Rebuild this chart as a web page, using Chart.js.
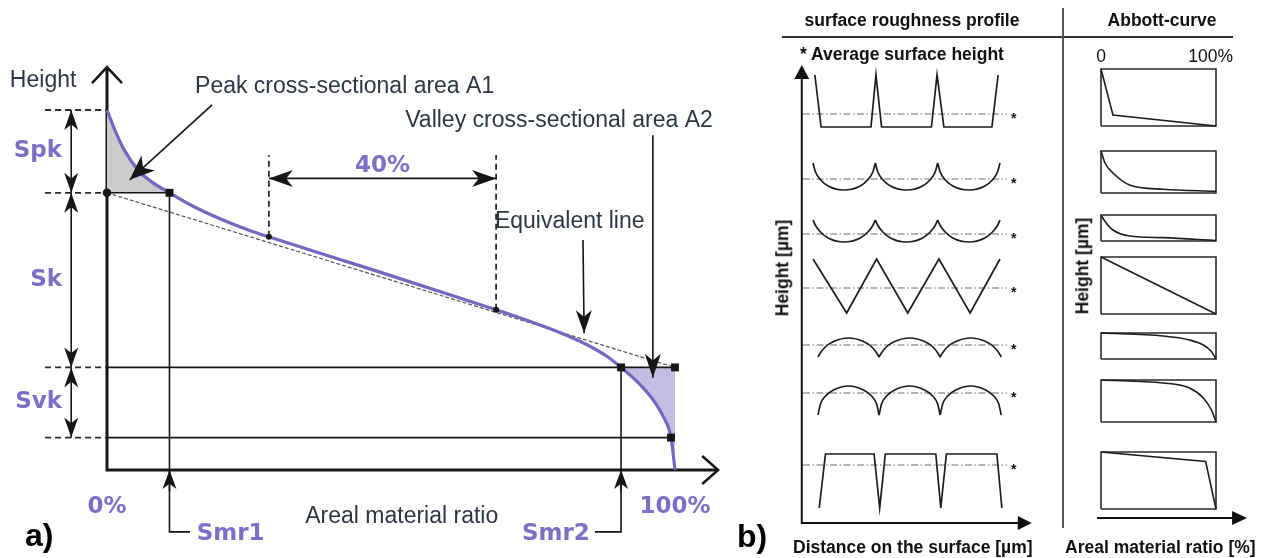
<!DOCTYPE html>
<html>
<head>
<meta charset="utf-8">
<title>Areal material ratio curve</title>
<script src="https://cdn.jsdelivr.net/npm/chart.js@4.4.1/dist/chart.umd.min.js"></script>
<style>
  body { margin: 0; background: #fff; }
  #page { position: relative; width: 1263px; height: 558px; overflow: hidden; background: #fff;
          font-family: "Liberation Sans", Arial, sans-serif; color: #111; }
  canvas { position: absolute; top: 0; }
  .t { position: absolute; white-space: nowrap; line-height: 1; font-size: 17.5px; font-weight: bold; }
  .c { transform: translate(-50%, -50%); }
  .l { transform: translateY(-50%); }
  .rot { transform: translate(-50%, -50%) rotate(-90deg); }
  .tag { position: absolute; font-size: 32px; font-weight: bold; line-height: 1; color: #000; }
  .rule { position: absolute; background: #333; }
</style>
</head>
<body>
<div id="page">
  <canvas id="bearing" width="740" height="558" style="left:0"></canvas>
  <canvas id="profiles" width="290" height="558" style="left:760px"></canvas>
  <canvas id="abbott" width="203" height="558" style="left:1060px"></canvas>

  <div class="rule" style="left:782px; top:36px; width:451px; height:1.5px"></div>
  <div class="rule" style="left:1062px; top:8px; width:2px; height:520px; background:#555"></div>

  <div class="t c" style="left:912px; top:21px">surface roughness profile</div>
  <div class="t c" style="left:1162px; top:21px">Abbott-curve</div>
  <div class="t l" style="left:800px; top:55px">* Average surface height</div>
  <div class="t c" style="left:1101px; top:57px; font-weight:normal">0</div>
  <div class="t l" style="right:30px; top:57px; font-weight:normal">100%</div>
  <div class="t rot" style="left:783px; top:268px">Height [µm]</div>
  <div class="t rot" style="left:1083px; top:266px">Height [µm]</div>
  <div class="t l" style="left:793px; top:548px">Distance on the surface [µm]</div>
  <div class="t l" style="left:1065px; top:548px">Areal material ratio [%]</div>

  <div class="tag" style="left:25px; top:519px">a)</div>
  <div class="tag" style="left:737px; top:520px">b)</div>
</div>

<script>
/* ---- panel a: areal material ratio curve ---- */

// material ratio (%) and surface height along the curve
const ratio  = [0, 1.5, 3, 5.5, 8, 11, 15, 20, 25, 29, 46, 67, 73, 80, 84.5, 88, 90.5, 93.5, 96, 98, 99.3, 100]
const height = [100, 94, 89, 83.3, 79.9, 77, 73.4, 69.7, 66.6, 64.5, 56, 45.3, 42.1, 38, 34.8, 31.6, 28.5, 24.3, 19.8, 14.6, 9, 0]

// heights bounding the Spk, Sk and Svk bands (top of Spk ... bottom of Svk)
const levels = [100, 77, 28.5, 9]
const levelNames = ['Spk', 'Sk', 'Svk']

// material ratios Smr1 and Smr2
const smr = [11, 90.5]
const smrNames = ['Smr1', 'Smr2']

// 40 % window used for the equivalent line, and where it meets the curve
const secantRatio = [28.5, 68.5]
const secantHeight = [64.8, 44.5]

// ratio where the curve reaches the bottom of Svk
const svkFoot = 99.3

// ratio axis ticks
const ratioTicks = [0, 100]
const ratioTickText = ['0%', '100%']


/* ---- panel b: model profiles and their Abbott curves ---- */

// distance (µm) and height about the mean line (µm); null splits the arcs at a cusp
const profileDist = [
  [0.3, 1.3, 9.3, 10.1, 11.0, 19.0, 19.9, 21.0, 28.7, 29.7],
  [0, 0.4, 1.2, 2.5, 5, 7.5, 8.8, 9.6, 10, null, 10, 10.4, 11.2, 12.5, 15, 17.5, 18.8, 19.6, 20, null, 20, 20.4, 21.2, 22.5, 25, 27.5, 28.8, 29.6, 30],
  [0, 0.4, 1.2, 2.5, 5, 7.5, 8.8, 9.6, 10, null, 10, 10.4, 11.2, 12.5, 15, 17.5, 18.8, 19.6, 20, null, 20, 20.4, 21.2, 22.5, 25, 27.5, 28.8, 29.6, 30],
  [0, 5.4, 10.2, 15.2, 20.2, 25.2, 30],
  [0.8, 1.2, 2.0, 3.3, 5.7, 8.1, 9.4, 10.2, 10.6, null, 10.6, 11.0, 11.8, 13.1, 15.5, 17.9, 19.2, 20.0, 20.4, null, 20.4, 20.8, 21.6, 22.9, 25.3, 27.7, 29.0, 29.8, 30.2],
  [0.8, 1.2, 2.0, 3.3, 5.7, 8.1, 9.4, 10.2, 10.6, null, 10.6, 11.0, 11.8, 13.1, 15.5, 17.9, 19.2, 20.0, 20.4, null, 20.4, 20.8, 21.6, 22.9, 25.3, 27.7, 29.0, 29.8, 30.2],
  [1, 2, 9.8, 10.7, 11.6, 19.7, 20.5, 21.4, 29.5, 30.3]
]
const profileHeight = [
  [7.8, -2.6, -2.6, 7.8, -2.6, -2.6, 7.8, -2.6, -2.6, 7.8],
  [3.2, 1.4, -0.15, -1.45, -2.2, -1.45, -0.15, 1.4, 3.2, null, 3.2, 1.4, -0.15, -1.45, -2.2, -1.45, -0.15, 1.4, 3.2, null, 3.2, 1.4, -0.15, -1.45, -2.2, -1.45, -0.15, 1.4, 3.2],
  [2.8, 1.7, 0.4, -0.85, -1.6, -0.85, 0.4, 1.7, 2.8, null, 2.8, 1.7, 0.4, -0.85, -1.6, -0.85, 0.4, 1.7, 2.8, null, 2.8, 1.7, 0.4, -0.85, -1.6, -0.85, 0.4, 1.7, 2.8],
  [5.8, -5, 5.8, -5, 5.8, -5, 5.8],
  [-2.4, -1.55, -0.35, 0.7, 1.4, 0.7, -0.35, -1.55, -2.4, null, -2.4, -1.55, -0.35, 0.7, 1.4, 0.7, -0.35, -1.55, -2.4, null, -2.4, -1.55, -0.35, 0.7, 1.4, 0.7, -0.35, -1.55, -2.4],
  [-4.4, -2.2, -0.6, 0.6, 1.4, 0.6, -0.6, -2.2, -4.4, null, -4.4, -2.2, -0.6, 0.6, 1.4, 0.6, -0.6, -2.2, -4.4, null, -4.4, -2.2, -0.6, 0.6, 1.4, 0.6, -0.6, -2.2, -4.4],
  [-8.6, 2.2, 2.2, -8.6, 2.2, 2.2, -8.6, 2.2, 2.2, -8.6]
]

// Abbott curve of each profile: material ratio (%) and height above the lowest valley (µm)
const abbottRatio = [
  [0, 10.4, 100],
  [0, 3.5, 10.4, 25, 54, 100],
  [0, 3.5, 10.4, 25, 54, 100],
  [0, 100],
  [0, 54, 77, 89, 96, 100],
  [0, 54, 77, 89, 96, 100],
  [0, 91, 100]
]
const abbottHeight = [
  [11.4, 2.2, 0],
  [8.4, 6.0, 4.0, 1.6, 0.74, 0.35],
  [5.2, 3.9, 2.2, 1.0, 0.67, 0.1],
  [11.4, 0],
  [5.2, 4.6, 3.8, 2.8, 1.5, 0],
  [8.4, 7.8, 6.8, 4.8, 2.4, 0],
  [11.4, 9.5, 0]
]
// peak-to-valley height framed by each Abbott box
const abbottRange = [11.4, 8.4, 5.2, 11.4, 5.2, 8.4, 11.4]

// where each row sits on the shared height axis
const rowLevel = [81.8, 68.8, 57.8, 47, 35.6, 26, 11.6]
const boxLevel = [79.4, 66, 56.4, 41.8, 32.8, 20.2, 2.8]


/* ---- colours and fonts ---- */
const ink = '#161616'
const curvePurple = '#7467bf'
const labelPurple = '#7d6ec7'
const textGrey = '#2e3643'
const sans = '"Liberation Sans", Arial, sans-serif'
const round = '"DejaVu Sans", sans-serif'


/* ---- helpers ---- */
const gap = {x: null, y: null}

// joins several [x, y] paths into one dataset, broken between them
function polyline(paths) {
  let out = []
  paths.forEach(function(path, i) {
    if (i > 0) out.push(gap)
    path.forEach(function(p) { out.push({x: p[0], y: p[1]}) })
  })
  return out
}

function points(xs, ys, base) {
  return xs.map(function(x, i) {
    if (x === null) return gap
    return {x: x, y: ys[i] + (base || 0)}
  })
}

function px(chart, x, y) {
  return [chart.scales.x.getPixelForValue(x), chart.scales.y.getPixelForValue(y)]
}

// filled "stealth" arrow head with its tip at x, y
function head(ctx, x, y, ang, len, half) {
  ctx.save()
  ctx.translate(x, y)
  ctx.rotate(ang)
  ctx.beginPath()
  ctx.moveTo(0, 0)
  ctx.lineTo(-len, -half)
  ctx.lineTo(-len * 0.72, 0)
  ctx.lineTo(-len, half)
  ctx.closePath()
  ctx.fill()
  ctx.restore()
}

// plain filled triangle head
function triangle(ctx, x, y, ang, len, half) {
  ctx.save()
  ctx.translate(x, y)
  ctx.rotate(ang)
  ctx.beginPath()
  ctx.moveTo(0, 0)
  ctx.lineTo(-len, -half)
  ctx.lineTo(-len, half)
  ctx.closePath()
  ctx.fill()
  ctx.restore()
}

// open arrow head made of two strokes
function chevron(ctx, x, y, ang, len, half) {
  ctx.save()
  ctx.translate(x, y)
  ctx.rotate(ang)
  ctx.beginPath()
  ctx.moveTo(-len, -half)
  ctx.lineTo(0, 0)
  ctx.lineTo(-len, half)
  ctx.stroke()
  ctx.restore()
}

function arrow(chart, from, to, opt) {
  let ctx = chart.ctx
  let a = px(chart, from[0], from[1])
  let b = px(chart, to[0], to[1])
  let ang = Math.atan2(b[1] - a[1], b[0] - a[0])
  ctx.save()
  ctx.strokeStyle = ink
  ctx.fillStyle = ink
  ctx.lineWidth = 1.6
  ctx.beginPath()
  ctx.moveTo(a[0], a[1])
  ctx.lineTo(b[0], b[1])
  ctx.stroke()
  head(ctx, b[0], b[1], ang, opt.len, opt.half)
  if (opt.both) head(ctx, a[0], a[1], ang + Math.PI, opt.len, opt.half)
  ctx.restore()
}

function say(chart, str, x, y, font, color, align, base) {
  let ctx = chart.ctx
  let p = px(chart, x, y)
  ctx.font = font
  ctx.fillStyle = color
  ctx.textAlign = align || 'left'
  ctx.textBaseline = base || 'alphabetic'
  ctx.fillText(str, p[0], p[1])
}


/* ---- panel a chart ---- */
let curvePts = points(ratio, height)
let peakPts = curvePts.filter(function(p) { return p.x <= smr[0] })
let valleyPts = curvePts.filter(function(p) { return p.x >= smr[1] })

// bracket under the ratio axis that carries the Smr labels
let bracketY = -17.2

let solidLines = polyline([
  [[0, levels[1]], [smr[0], levels[1]]],
  [[0, levels[2]], [100, levels[2]]],
  [[0, levels[3]], [svkFoot, levels[3]]],
  [[smr[0], levels[1]], [smr[0], bracketY], [smr[0] + 3.6, bracketY]],
  [[smr[1], levels[2]], [smr[1], bracketY], [smr[1] - 4.6, bracketY]]
])

let dashedLines = polyline(
  levels.map(function(v) { return [[-10.9, v], [0, v]] }).concat(
  secantRatio.map(function(r, i) { return [[r, secantHeight[i]], [r, 87.5]] }))
)

const bearingDecor = {
  id: 'bearingDecor',
  beforeDatasetsDraw(chart) {
    let ctx = chart.ctx
    let o = px(chart, 0, 0)
    let top = px(chart, 0, 111.9)
    let right = px(chart, 107.6, 0)
    ctx.save()
    ctx.strokeStyle = ink
    ctx.lineWidth = 3
    ctx.beginPath()
    ctx.moveTo(top[0], top[1])
    ctx.lineTo(o[0], o[1])
    ctx.lineTo(right[0], right[1])
    ctx.stroke()
    ctx.lineWidth = 2.5
    chevron(ctx, top[0], top[1], -Math.PI / 2, 16, 15)
    chevron(ctx, right[0], right[1], 0, 16, 14)
    ctx.restore()
  },
  afterDatasetsDraw(chart) {
    // dimension arrows for the three bands
    for (let i = 0; i < 3; i++) {
      arrow(chart, [-6.3, levels[i]], [-6.3, levels[i + 1]], {both: true, len: 20, half: 7})
    }
    let mid = (secantRatio[0] + secantRatio[1]) / 2
    arrow(chart, [secantRatio[0], 81], [secantRatio[1], 81], {both: true, len: 24, half: 8.5})

    // pointers to the two areas and to the equivalent line
    arrow(chart, [18.5, 101.4], [4.0, 80.6], {len: 25, half: 10})
    arrow(chart, [96.1, 93], [96.1, 25.6], {len: 24, half: 8})
    arrow(chart, [83.8, 63.9], [84, 38], {len: 23, half: 8})
    smr.forEach(function(s) { arrow(chart, [s, -6], [s, 0], {len: 19, half: 7}) })

    let plain = '23px ' + sans
    say(chart, 'Height', -17.1, 106.5, plain, textGrey)
    say(chart, 'Peak cross-sectional area A1', 15.5, 104.7, plain, textGrey)
    say(chart, 'Valley cross-sectional area A2', 52.5, 95.4, plain, textGrey)
    say(chart, 'Equivalent line', 68.3, 67.1, plain, textGrey)
    say(chart, 'Areal material ratio', 34.9, -14.8, plain, textGrey)

    let bold = 'bold 23px ' + round
    levelNames.forEach(function(name, i) {
      say(chart, name, -7.9, (levels[i] + levels[i + 1]) / 2, bold, labelPurple, 'right', 'middle')
    })
    say(chart, (secantRatio[1] - secantRatio[0]) + '%', mid, 82.9, bold, labelPurple, 'center')
    ratioTicks.forEach(function(t, i) {
      say(chart, ratioTickText[i], t, -12, bold, labelPurple, 'center')
    })
    say(chart, smrNames[0], smr[0] + 4.8, -19.4, bold, labelPurple, 'left')
    say(chart, smrNames[1], smr[1] - 5.5, -19.4, bold, labelPurple, 'right')
  }
}

const lineBase = {pointRadius: 0, clip: false, fill: false, tension: 0}

new Chart(document.getElementById('bearing'), {
  type: 'line',
  data: {
    datasets: [
      // marker squares and dots
      {data: [{x: smr[0], y: levels[1]}, {x: smr[1], y: levels[2]}, {x: 100, y: levels[2]}, {x: svkFoot, y: levels[3]}],
        showLine: false, clip: false, pointStyle: 'rect', pointRadius: 5.6, backgroundColor: ink, borderWidth: 0},
      {data: [{x: 0, y: levels[1]}], showLine: false, clip: false, pointRadius: 4.3, backgroundColor: ink, borderWidth: 0},
      {data: points(secantRatio, secantHeight), showLine: false, clip: false, pointRadius: 3, backgroundColor: ink, borderWidth: 0},
      // the material ratio curve
      Object.assign({}, lineBase, {data: curvePts, borderColor: curvePurple, borderWidth: 3.2, cubicInterpolationMode: 'monotone'}),
      // equivalent line through the 40 % window
      Object.assign({}, lineBase, {data: [{x: 0, y: levels[1]}, {x: 100, y: levels[2]}], borderColor: '#555', borderWidth: 1.2, borderDash: [4, 2]}),
      Object.assign({}, lineBase, {data: solidLines, borderColor: ink, borderWidth: 1.6}),
      Object.assign({}, lineBase, {data: dashedLines, borderColor: '#2b2b2b', borderWidth: 1.8, borderDash: [6, 4]}),
      // A1 and A2
      Object.assign({}, lineBase, {data: peakPts, fill: {value: levels[1]}, backgroundColor: '#cbcbcb',
        borderColor: 'transparent', borderWidth: 1, cubicInterpolationMode: 'monotone'}),
      Object.assign({}, lineBase, {data: valleyPts, fill: {value: levels[2]}, backgroundColor: '#c4bce2',
        borderColor: 'transparent', borderWidth: 1, cubicInterpolationMode: 'monotone'})
    ]
  },
  options: {
    responsive: false,
    animation: false,
    events: [],
    devicePixelRatio: 1,
    layout: {padding: {left: 107, right: 65, top: 110, bottom: 88}},
    scales: {
      x: {type: 'linear', min: 0, max: 100, display: false},
      y: {type: 'linear', min: 0, max: 100, display: false}
    },
    plugins: {legend: {display: false}, tooltip: {enabled: false}}
  },
  plugins: [bearingDecor]
})


/* ---- panel b: profiles ---- */
let profileSets = []
rowLevel.forEach(function(lvl, i) {
  let arcs = profileDist[i].includes(null)
  profileSets.push(Object.assign({}, lineBase, {
    data: points(profileDist[i], profileHeight[i], lvl),
    borderColor: '#1c1c1c', borderWidth: 1.7,
    cubicInterpolationMode: arcs ? 'monotone' : 'default'
  }))
})
rowLevel.forEach(function(lvl) {
  profileSets.push(Object.assign({}, lineBase, {
    data: [{x: -1.6, y: lvl}, {x: 31.1, y: lvl}],
    borderColor: '#6a6a6a', borderWidth: 1, borderDash: [7, 2.5, 1.5, 2.5]
  }))
})

const profileDecor = {
  id: 'profileDecor',
  afterDatasetsDraw(chart) {
    let ctx = chart.ctx
    let o = px(chart, -1.8, 0)
    let up = px(chart, -1.8, 91.6)
    let right = px(chart, 35.1, 0)
    ctx.save()
    ctx.strokeStyle = '#111'
    ctx.fillStyle = '#111'
    ctx.lineWidth = 2
    ctx.beginPath()
    ctx.moveTo(up[0], up[1] + 10)
    ctx.lineTo(o[0], o[1])
    ctx.lineTo(right[0] - 10, right[1])
    ctx.stroke()
    triangle(ctx, up[0], up[1], -Math.PI / 2, 14, 7.5)
    triangle(ctx, right[0], right[1], 0, 14, 7)

    // mean line markers
    ctx.font = 'bold 14px ' + sans
    ctx.textAlign = 'center'
    ctx.textBaseline = 'alphabetic'
    rowLevel.forEach(function(lvl) {
      let p = px(chart, 32.2, lvl)
      ctx.fillText('*', p[0], p[1] + 9)
    })
    ctx.restore()
  }
}

new Chart(document.getElementById('profiles'), {
  type: 'line',
  data: {datasets: profileSets},
  options: {
    responsive: false,
    animation: false,
    events: [],
    devicePixelRatio: 1,
    layout: {padding: {left: 53, right: 50, top: 65, bottom: 35}},
    scales: {
      x: {type: 'linear', min: 0, max: 30, display: false},
      y: {type: 'linear', min: 0, max: 91.6, display: false}
    },
    plugins: {legend: {display: false}, tooltip: {enabled: false}}
  },
  plugins: [profileDecor]
})


/* ---- panel b: Abbott curves ---- */
let abbottSets = []
boxLevel.forEach(function(base, i) {
  abbottSets.push(Object.assign({}, lineBase, {
    data: points(abbottRatio[i], abbottHeight[i], base),
    borderColor: '#1c1c1c', borderWidth: 1.6,
    cubicInterpolationMode: abbottRatio[i].length > 3 ? 'monotone' : 'default'
  }))
  let h = abbottRange[i]
  abbottSets.push(Object.assign({}, lineBase, {
    data: polyline([[[0, base], [100, base], [100, base + h], [0, base + h], [0, base]]]),
    borderColor: '#2a2a2a', borderWidth: 1.6
  }))
})

const abbottDecor = {
  id: 'abbottDecor',
  afterDatasetsDraw(chart) {
    let ctx = chart.ctx
    let a = px(chart, -3.5, 1)
    let b = px(chart, 127, 1)
    ctx.save()
    ctx.strokeStyle = '#111'
    ctx.fillStyle = '#111'
    ctx.lineWidth = 2
    ctx.beginPath()
    ctx.moveTo(a[0], a[1])
    ctx.lineTo(b[0] - 10, b[1])
    ctx.stroke()
    triangle(ctx, b[0], b[1], 0, 15, 7)
    ctx.restore()
  }
}

new Chart(document.getElementById('abbott'), {
  type: 'line',
  data: {datasets: abbottSets},
  options: {
    responsive: false,
    animation: false,
    events: [],
    devicePixelRatio: 1,
    layout: {padding: {left: 41, right: 47, top: 65, bottom: 35}},
    scales: {
      x: {type: 'linear', min: 0, max: 100, display: false},
      y: {type: 'linear', min: 0, max: 91.6, display: false}
    },
    plugins: {legend: {display: false}, tooltip: {enabled: false}}
  },
  plugins: [abbottDecor]
})
</script>
</body>
</html>
